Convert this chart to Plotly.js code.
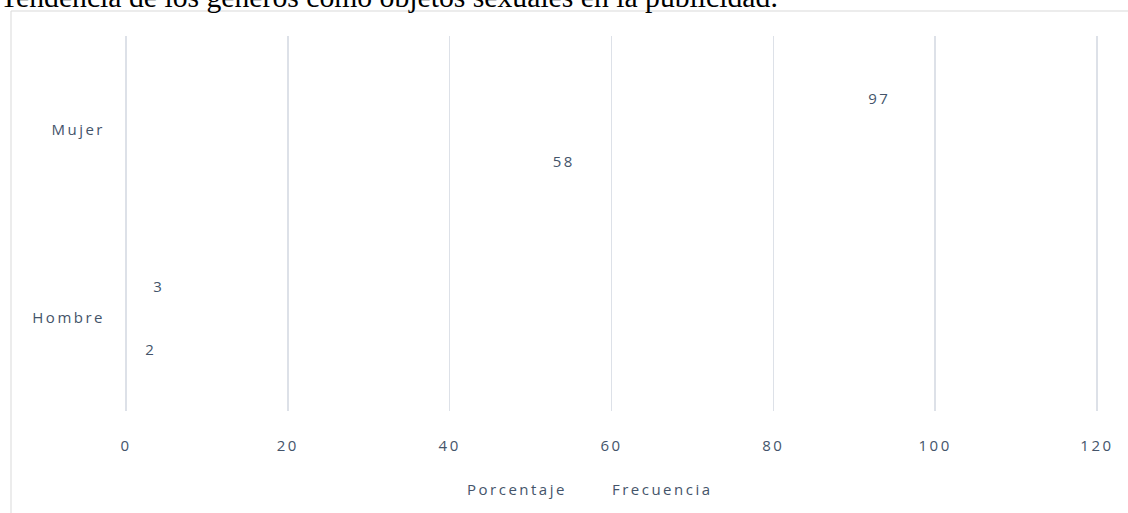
<!DOCTYPE html>
<html>
<head>
<meta charset="utf-8">
<script src="https://cdn.plot.ly/plotly-3.0.1.min.js"></script>
<style>
html,body{margin:0;padding:0;background:#fff;}
#chart{width:1128px;height:513px;}
#chart .xtick text, #chart .ytick text, .legendtext, .bartext { letter-spacing: 2.5px; }
</style>
</head>
<body>
<div id="chart"></div>
<script>
const categories = ['Hombre', 'Mujer'];
const frecuencia = [2, 58];
const porcentaje = [3, 97];
const seriesNames = ['Frecuencia', 'Porcentaje'];
const xTicks = [0, 20, 40, 60, 80, 100, 120];
const titleText = 'Tendencia de los géneros como objetos sexuales en la publicidad.';

const textFont = {family: 'Open Sans, sans-serif', size: 15, color: '#44546a'};

function barTrace(name, values) {
  return {
    type: 'bar', orientation: 'h', name: name,
    y: categories, x: values,
    texttemplate: '%{x}\u2003',
    textposition: 'auto', insidetextanchor: 'end', constraintext: 'none',
    textfont: textFont, insidetextfont: textFont, outsidetextfont: textFont,
    marker: {color: 'rgba(255,255,255,0)', line: {width: 0}},
    hoverinfo: 'x+y+name'
  };
}

const data = [barTrace(seriesNames[0], frecuencia), barTrace(seriesNames[1], porcentaje)];

const layout = {
  width: 1128, height: 513,
  margin: {l: 124, r: 29, t: 36, b: 102, autoexpand: false},
  paper_bgcolor: '#ffffff', plot_bgcolor: '#ffffff',
  barmode: 'group', bargap: 0.33, bargroupgap: 0,
  showlegend: true,
  title: {
    text: titleText,
    font: {family: 'Liberation Serif, Times New Roman, serif', size: 29.7, color: '#000000'},
    x: 0, xanchor: 'left', xref: 'container',
    y: 1 - 7 / 513, yanchor: 'bottom', yref: 'container'
  },
  xaxis: {
    range: [-0.25, 120.25], tickvals: xTicks, ticktext: xTicks.map(String),
    showgrid: true, gridcolor: '#dde1e8', gridwidth: 1.5,
    zeroline: false, showline: false, ticks: '',
    ticklabelstandoff: 24, tickfont: textFont, fixedrange: true
  },
  yaxis: {
    type: 'category', categoryorder: 'array', categoryarray: categories,
    range: [-0.5, 1.5],
    showgrid: false, zeroline: false, showline: false, ticks: '',
    ticklabelstandoff: 18, tickfont: textFont, fixedrange: true
  },
  legend: {
    orientation: 'h', traceorder: 'reversed',
    x: 0.3108, xanchor: 'left', y: -0.21, yanchor: 'middle',
    font: textFont, bgcolor: 'rgba(0,0,0,0)'
  },
  shapes: [
    {type: 'line', xref: 'paper', yref: 'paper',
     x0: (11 - 124) / 975, x1: (1140 - 124) / 975,
     y0: 1 + (36 - 11) / 375, y1: 1 + (36 - 11) / 375,
     line: {color: '#d9d9d9', width: 1}},
    {type: 'line', xref: 'paper', yref: 'paper',
     x0: (11 - 124) / 975, x1: (11 - 124) / 975,
     y0: 1 + (36 - 11) / 375, y1: -0.35,
     line: {color: '#d9d9d9', width: 1}}
  ]
};

Plotly.newPlot('chart', data, layout, {displayModeBar: false, staticPlot: true});
</script>
</body>
</html>
